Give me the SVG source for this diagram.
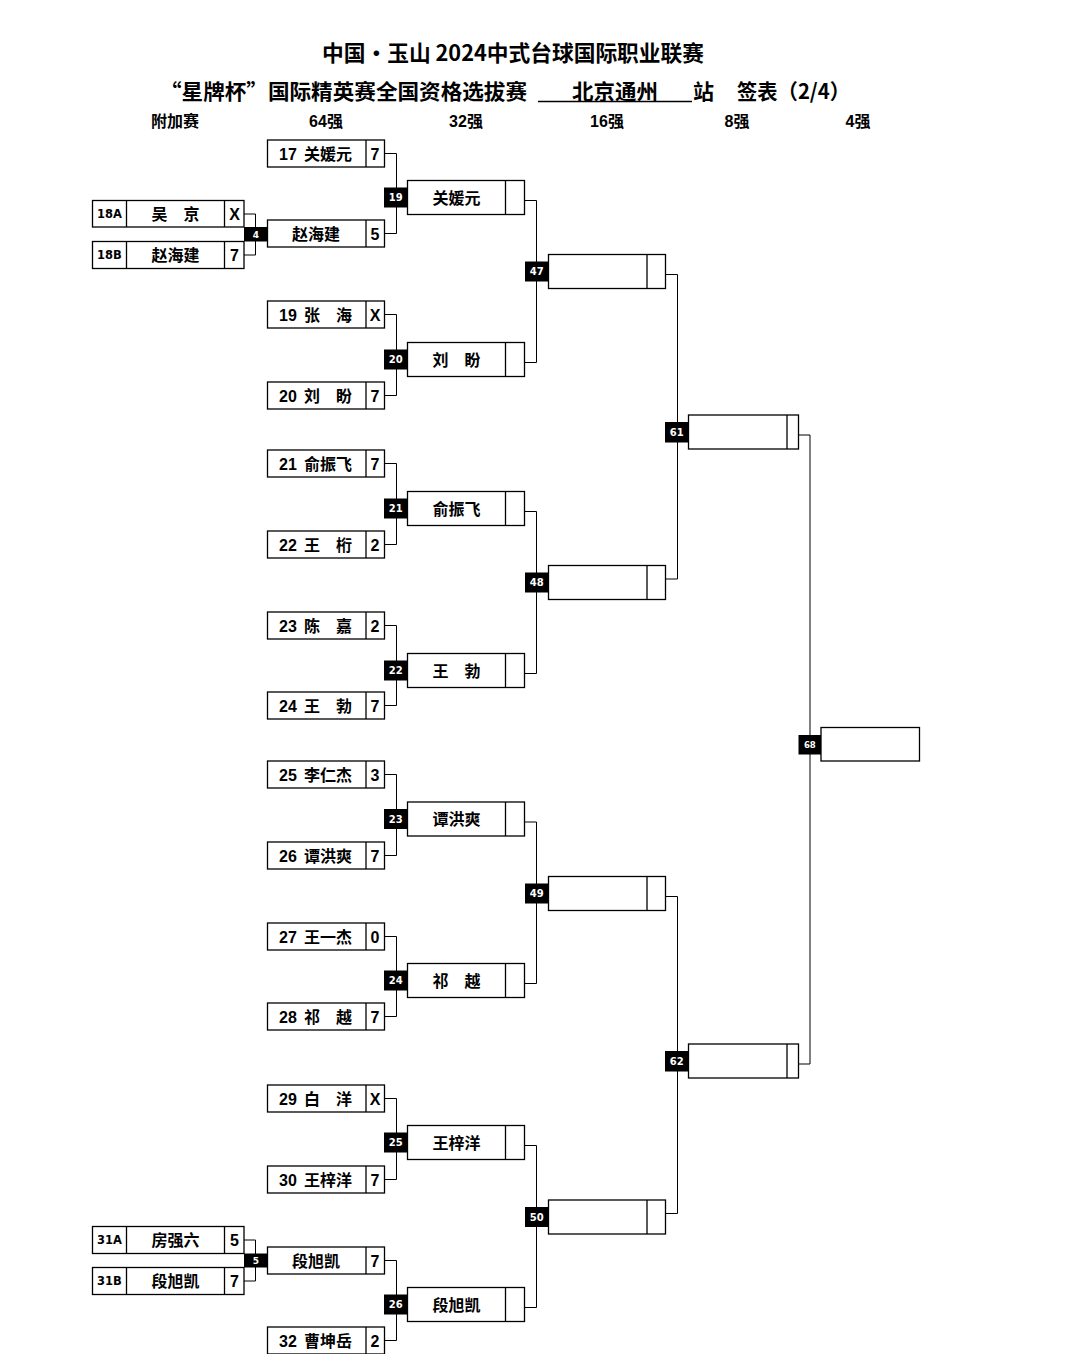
<svg xmlns="http://www.w3.org/2000/svg" width="1080" height="1354" viewBox="0 0 1080 1354">
<style>
.b{fill:#fff;stroke:#000;stroke-width:1.3}
.d{stroke:#000;stroke-width:1.3}
.c{fill:none;stroke:#000;stroke-width:1}
.nb{fill:#000}
.nt{fill:#fff;font-family:"DejaVu Sans",sans-serif;font-weight:bold;font-size:10px;text-anchor:middle}
.t{font-family:"Liberation Sans","Noto Sans CJK SC",sans-serif;font-weight:bold;font-size:16px;fill:#000}
.q{font-family:"DejaVu Sans",sans-serif;font-weight:bold;font-size:11.5px;fill:#000;text-anchor:middle}
.h{font-family:"Noto Sans CJK SC",sans-serif;font-weight:bold;font-size:21px;fill:#000}
.m{text-anchor:middle}
</style>
<rect width="1080" height="1354" fill="#fff"/>
<g id="title">
<text class="h" x="322" y="61" textLength="382" lengthAdjust="spacingAndGlyphs" style="font-size:22px">中国•玉山 2024中式台球国际职业联赛</text>
<text class="h" x="160" y="99" textLength="367" lengthAdjust="spacingAndGlyphs">“星牌杯”国际精英赛全国资格选拔赛</text>
<text class="h" x="572" y="99" textLength="86" lengthAdjust="spacingAndGlyphs">北京通州</text>
<line x1="538" y1="101.5" x2="692" y2="101.5" stroke="#000" stroke-width="1.5"/>
<text class="h" x="693" y="99">站</text>
<text class="h" x="737" y="99" textLength="113" lengthAdjust="spacingAndGlyphs">签表（2/4）</text>
</g>
<g id="headers" class="t m">
<text x="175" y="127">附加赛</text>
<text x="326" y="127">64强</text>
<text x="466" y="127">32强</text>
<text x="607" y="127">16强</text>
<text x="737" y="127">8强</text>
<text x="858" y="127">4强</text>
</g>
<g id="connectors" class="c">
<polyline points="244,214 255.5,214 255.5,255 244,255"/>
<polyline points="244,1240 255.5,1240 255.5,1281 244,1281"/>
<polyline points="384.5,153.5 396.5,153.5 396.5,233.5 384.5,233.5"/>
<polyline points="384.5,314.5 396.5,314.5 396.5,395.5 384.5,395.5"/>
<polyline points="384.5,463.5 396.5,463.5 396.5,544.5 384.5,544.5"/>
<polyline points="384.5,625.5 396.5,625.5 396.5,705.5 384.5,705.5"/>
<polyline points="384.5,774.5 396.5,774.5 396.5,855.5 384.5,855.5"/>
<polyline points="384.5,936.5 396.5,936.5 396.5,1016.5 384.5,1016.5"/>
<polyline points="384.5,1098.5 396.5,1098.5 396.5,1179.5 384.5,1179.5"/>
<polyline points="384.5,1260.5 396.5,1260.5 396.5,1340.5 384.5,1340.5"/>
<polyline points="524.5,200.5 536.5,200.5 536.5,362.5 524.5,362.5"/>
<polyline points="524.5,511.5 536.5,511.5 536.5,673.5 524.5,673.5"/>
<polyline points="524.5,822 536.5,822 536.5,983.5 524.5,983.5"/>
<polyline points="524.5,1145.5 536.5,1145.5 536.5,1307.5 524.5,1307.5"/>
<polyline points="665.5,274.5 677.5,274.5 677.5,579 665.5,579"/>
<polyline points="665.5,896.5 677.5,896.5 677.5,1213.5 665.5,1213.5"/>
<polyline points="798.5,435 810,435 810,1064 798.5,1064"/>
</g>
<g id="q18A"><rect class="b" x="92.5" y="200.5" width="151.5" height="26.5"/><line class="d" x1="126.5" y1="200.5" x2="126.5" y2="227"/><line class="d" x1="224.5" y1="200.5" x2="224.5" y2="227"/><text class="q" x="109.5" y="218">18A</text><text class="t m" x="175.5" y="220">吴　京</text><text class="t m" x="234.5" y="220">X</text></g>
<g id="q18B"><rect class="b" x="92.5" y="241.5" width="151.5" height="27"/><line class="d" x1="126.5" y1="241.5" x2="126.5" y2="268.5"/><line class="d" x1="224.5" y1="241.5" x2="224.5" y2="268.5"/><text class="q" x="109.5" y="259">18B</text><text class="t m" x="175.5" y="261">赵海建</text><text class="t m" x="234.5" y="261">7</text></g>
<g id="q31A"><rect class="b" x="92.5" y="1226.5" width="151.5" height="27"/><line class="d" x1="126.5" y1="1226.5" x2="126.5" y2="1253.5"/><line class="d" x1="224.5" y1="1226.5" x2="224.5" y2="1253.5"/><text class="q" x="109.5" y="1244">31A</text><text class="t m" x="175.5" y="1246">房强六</text><text class="t m" x="234.5" y="1246">5</text></g>
<g id="q31B"><rect class="b" x="92.5" y="1267.5" width="151.5" height="27"/><line class="d" x1="126.5" y1="1267.5" x2="126.5" y2="1294.5"/><line class="d" x1="224.5" y1="1267.5" x2="224.5" y2="1294.5"/><text class="q" x="109.5" y="1285">31B</text><text class="t m" x="175.5" y="1287">段旭凯</text><text class="t m" x="234.5" y="1287">7</text></g>
<g id="m4"><rect class="nb" x="244" y="227" width="23.5" height="14.5"/><text class="nt" x="255.8" y="238" style="font-size:9px">4</text></g>
<g id="m5"><rect class="nb" x="244" y="1253.5" width="23.5" height="14"/><text class="nt" x="255.8" y="1264" style="font-size:9px">5</text></g>
<g id="p17"><rect class="b" x="267.5" y="140" width="117" height="27"/><line class="d" x1="366" y1="140" x2="366" y2="167"/><text class="t" x="279" y="159.5">17</text><text class="t" x="304" y="159.5">关媛元</text><text class="t m" x="375" y="159.5">7</text></g>
<g id="p18"><rect class="b" x="267.5" y="220" width="117" height="27"/><line class="d" x1="366" y1="220" x2="366" y2="247"/><text class="t m" x="316" y="239.5">赵海建</text><text class="t m" x="375" y="239.5">5</text></g>
<g id="p19"><rect class="b" x="267.5" y="301" width="117" height="27"/><line class="d" x1="366" y1="301" x2="366" y2="328"/><text class="t" x="279" y="320.5">19</text><text class="t" x="304" y="320.5">张　海</text><text class="t m" x="375" y="320.5">X</text></g>
<g id="p20"><rect class="b" x="267.5" y="382" width="117" height="27"/><line class="d" x1="366" y1="382" x2="366" y2="409"/><text class="t" x="279" y="401.5">20</text><text class="t" x="304" y="401.5">刘　盼</text><text class="t m" x="375" y="401.5">7</text></g>
<g id="p21"><rect class="b" x="267.5" y="450" width="117" height="27"/><line class="d" x1="366" y1="450" x2="366" y2="477"/><text class="t" x="279" y="469.5">21</text><text class="t" x="304" y="469.5">俞振飞</text><text class="t m" x="375" y="469.5">7</text></g>
<g id="p22"><rect class="b" x="267.5" y="531" width="117" height="27"/><line class="d" x1="366" y1="531" x2="366" y2="558"/><text class="t" x="279" y="550.5">22</text><text class="t" x="304" y="550.5">王　桁</text><text class="t m" x="375" y="550.5">2</text></g>
<g id="p23"><rect class="b" x="267.5" y="612" width="117" height="27"/><line class="d" x1="366" y1="612" x2="366" y2="639"/><text class="t" x="279" y="631.5">23</text><text class="t" x="304" y="631.5">陈　嘉</text><text class="t m" x="375" y="631.5">2</text></g>
<g id="p24"><rect class="b" x="267.5" y="692" width="117" height="27"/><line class="d" x1="366" y1="692" x2="366" y2="719"/><text class="t" x="279" y="711.5">24</text><text class="t" x="304" y="711.5">王　勃</text><text class="t m" x="375" y="711.5">7</text></g>
<g id="p25"><rect class="b" x="267.5" y="761" width="117" height="27"/><line class="d" x1="366" y1="761" x2="366" y2="788"/><text class="t" x="279" y="780.5">25</text><text class="t" x="304" y="780.5">李仁杰</text><text class="t m" x="375" y="780.5">3</text></g>
<g id="p26"><rect class="b" x="267.5" y="842" width="117" height="27"/><line class="d" x1="366" y1="842" x2="366" y2="869"/><text class="t" x="279" y="861.5">26</text><text class="t" x="304" y="861.5">谭洪爽</text><text class="t m" x="375" y="861.5">7</text></g>
<g id="p27"><rect class="b" x="267.5" y="923" width="117" height="27"/><line class="d" x1="366" y1="923" x2="366" y2="950"/><text class="t" x="279" y="942.5">27</text><text class="t" x="304" y="942.5">王一杰</text><text class="t m" x="375" y="942.5">0</text></g>
<g id="p28"><rect class="b" x="267.5" y="1003" width="117" height="27"/><line class="d" x1="366" y1="1003" x2="366" y2="1030"/><text class="t" x="279" y="1022.5">28</text><text class="t" x="304" y="1022.5">祁　越</text><text class="t m" x="375" y="1022.5">7</text></g>
<g id="p29"><rect class="b" x="267.5" y="1085" width="117" height="27"/><line class="d" x1="366" y1="1085" x2="366" y2="1112"/><text class="t" x="279" y="1104.5">29</text><text class="t" x="304" y="1104.5">白　洋</text><text class="t m" x="375" y="1104.5">X</text></g>
<g id="p30"><rect class="b" x="267.5" y="1166" width="117" height="27"/><line class="d" x1="366" y1="1166" x2="366" y2="1193"/><text class="t" x="279" y="1185.5">30</text><text class="t" x="304" y="1185.5">王梓洋</text><text class="t m" x="375" y="1185.5">7</text></g>
<g id="p31"><rect class="b" x="267.5" y="1247" width="117" height="27"/><line class="d" x1="366" y1="1247" x2="366" y2="1274"/><text class="t m" x="316" y="1266.5">段旭凯</text><text class="t m" x="375" y="1266.5">7</text></g>
<g id="p32"><rect class="b" x="267.5" y="1327" width="117" height="27"/><line class="d" x1="366" y1="1327" x2="366" y2="1354"/><text class="t" x="279" y="1346.5">32</text><text class="t" x="304" y="1346.5">曹坤岳</text><text class="t m" x="375" y="1346.5">2</text></g>
<g id="r19"><rect class="b" x="407.5" y="180.5" width="117" height="34"/><line class="d" x1="505.5" y1="180.5" x2="505.5" y2="214.5"/><rect class="nb" x="384" y="187.5" width="23.5" height="20"/><text class="nt" x="395.8" y="201.3">19</text><text class="t m" x="456.5" y="203.5">关媛元</text></g>
<g id="r20"><rect class="b" x="407.5" y="342.5" width="117" height="34"/><line class="d" x1="505.5" y1="342.5" x2="505.5" y2="376.5"/><rect class="nb" x="384" y="349.5" width="23.5" height="20"/><text class="nt" x="395.8" y="363.3">20</text><text class="t m" x="456.5" y="365.5">刘　盼</text></g>
<g id="r21"><rect class="b" x="407.5" y="491.5" width="117" height="34"/><line class="d" x1="505.5" y1="491.5" x2="505.5" y2="525.5"/><rect class="nb" x="384" y="498.5" width="23.5" height="20"/><text class="nt" x="395.8" y="512.3">21</text><text class="t m" x="456.5" y="514.5">俞振飞</text></g>
<g id="r22"><rect class="b" x="407.5" y="653.5" width="117" height="34"/><line class="d" x1="505.5" y1="653.5" x2="505.5" y2="687.5"/><rect class="nb" x="384" y="660.5" width="23.5" height="20"/><text class="nt" x="395.8" y="674.3">22</text><text class="t m" x="456.5" y="676.5">王　勃</text></g>
<g id="r23"><rect class="b" x="407.5" y="802" width="117" height="34"/><line class="d" x1="505.5" y1="802" x2="505.5" y2="836"/><rect class="nb" x="384" y="809" width="23.5" height="20"/><text class="nt" x="395.8" y="822.8">23</text><text class="t m" x="456.5" y="825">谭洪爽</text></g>
<g id="r24"><rect class="b" x="407.5" y="963.5" width="117" height="34"/><line class="d" x1="505.5" y1="963.5" x2="505.5" y2="997.5"/><rect class="nb" x="384" y="970.5" width="23.5" height="20"/><text class="nt" x="395.8" y="984.3">24</text><text class="t m" x="456.5" y="986.5">祁　越</text></g>
<g id="r25"><rect class="b" x="407.5" y="1125.5" width="117" height="34"/><line class="d" x1="505.5" y1="1125.5" x2="505.5" y2="1159.5"/><rect class="nb" x="384" y="1132.5" width="23.5" height="20"/><text class="nt" x="395.8" y="1146.3">25</text><text class="t m" x="456.5" y="1148.5">王梓洋</text></g>
<g id="r26"><rect class="b" x="407.5" y="1287.5" width="117" height="34"/><line class="d" x1="505.5" y1="1287.5" x2="505.5" y2="1321.5"/><rect class="nb" x="384" y="1294.5" width="23.5" height="20"/><text class="nt" x="395.8" y="1308.3">26</text><text class="t m" x="456.5" y="1310.5">段旭凯</text></g>
<g id="s47"><rect class="b" x="548.5" y="254.5" width="117" height="34"/><line class="d" x1="647" y1="254.5" x2="647" y2="288.5"/><rect class="nb" x="525" y="261.5" width="23.5" height="20"/><text class="nt" x="536.8" y="275.3">47</text></g>
<g id="s48"><rect class="b" x="548.5" y="565.5" width="117" height="34"/><line class="d" x1="647" y1="565.5" x2="647" y2="599.5"/><rect class="nb" x="525" y="572.5" width="23.5" height="20"/><text class="nt" x="536.8" y="586.3">48</text></g>
<g id="s49"><rect class="b" x="548.5" y="876.5" width="117" height="34"/><line class="d" x1="647" y1="876.5" x2="647" y2="910.5"/><rect class="nb" x="525" y="883.5" width="23.5" height="20"/><text class="nt" x="536.8" y="897.3">49</text></g>
<g id="s50"><rect class="b" x="548.5" y="1200" width="117" height="34"/><line class="d" x1="647" y1="1200" x2="647" y2="1234"/><rect class="nb" x="525" y="1207" width="23.5" height="20"/><text class="nt" x="536.8" y="1220.8">50</text></g>
<g id="e61"><rect class="b" x="688.5" y="415" width="110" height="34"/><line class="d" x1="787" y1="415" x2="787" y2="449"/><rect class="nb" x="665" y="422" width="23.5" height="20.5"/><text class="nt" x="676.8" y="436">61</text></g>
<g id="e62"><rect class="b" x="688.5" y="1044" width="110" height="34"/><line class="d" x1="787" y1="1044" x2="787" y2="1078"/><rect class="nb" x="665" y="1051" width="23.5" height="20.5"/><text class="nt" x="676.8" y="1065">62</text></g>
<g id="f68"><rect class="b" x="821" y="727.5" width="98.5" height="33.5"/><rect class="nb" x="798.5" y="735" width="22.5" height="19.5"/><text class="nt" x="809.8" y="748" style="font-size:8.5px">68</text></g>
</svg>
